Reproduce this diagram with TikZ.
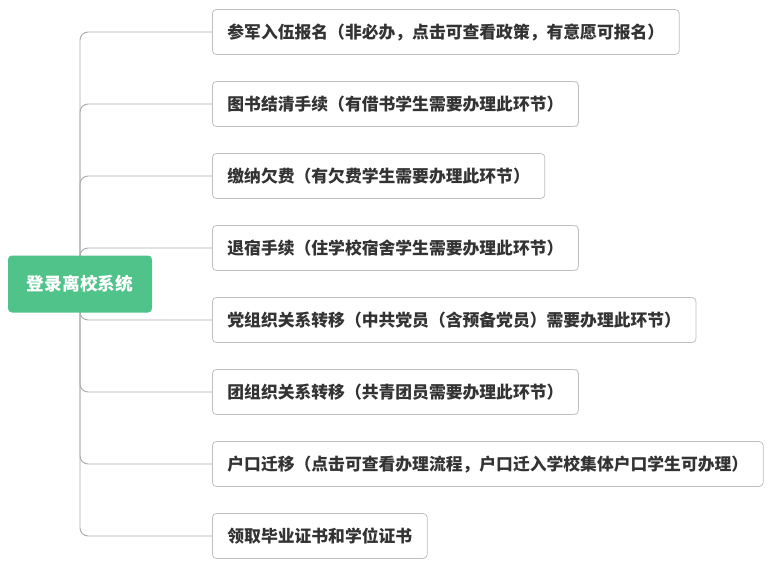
\documentclass[tikz,border=0pt]{standalone}
\usepackage{fontspec}
\setmainfont{Noto Sans CJK SC}
\usetikzlibrary{backgrounds}
\definecolor{rootgreen}{HTML}{4FC38A}
\definecolor{linegray}{HTML}{ABABAB}
\definecolor{boxgray}{HTML}{C0C0C0}
\definecolor{textgray}{HTML}{333333}

\begin{document}
\begin{tikzpicture}[x=1pt,y=-1pt,
  rootbox/.style={fill=rootgreen,rounded corners=4pt,minimum width=144pt,minimum height=57pt,text=white,font=\bfseries\fontsize{17.7}{20}\selectfont},
  leafbox/.style={draw=boxgray,line width=0.8pt,fill=white,rounded corners=4pt,minimum height=45pt,inner xsep=15pt,anchor=west,text=textgray,font=\bfseries\fontsize{16.8}{20}\selectfont},
  branch/.style={draw=linegray,line width=0.9pt,rounded corners=8pt}]

\useasboundingbox (0,0) rectangle (774,565);

\node[rootbox] (root) at (80,284) {登录离校系统};

\foreach \t [count=\i] in {参军入伍报名（非必办，点击可查看政策，有意愿可报名）,
   图书结清手续（有借书学生需要办理此环节）,
   缴纳欠费（有欠费学生需要办理此环节）,
   退宿手续（住学校宿舍学生需要办理此环节）,
   党组织关系转移（中共党员（含预备党员）需要办理此环节）,
   团组织关系转移（共青团员需要办理此环节）,
   户口迁移（点击可查看办理流程，户口迁入学校集体户口学生可办理）,
   领取毕业证书和学位证书}
   \node[leafbox] (b\i) at (212,{32+72*(\i-1)}) {\t};

\begin{scope}[on background layer]
\foreach \i in {1,...,8}
   \draw[branch] (root.center) |- (b\i.west);
\end{scope}

\end{tikzpicture}
\end{document}
